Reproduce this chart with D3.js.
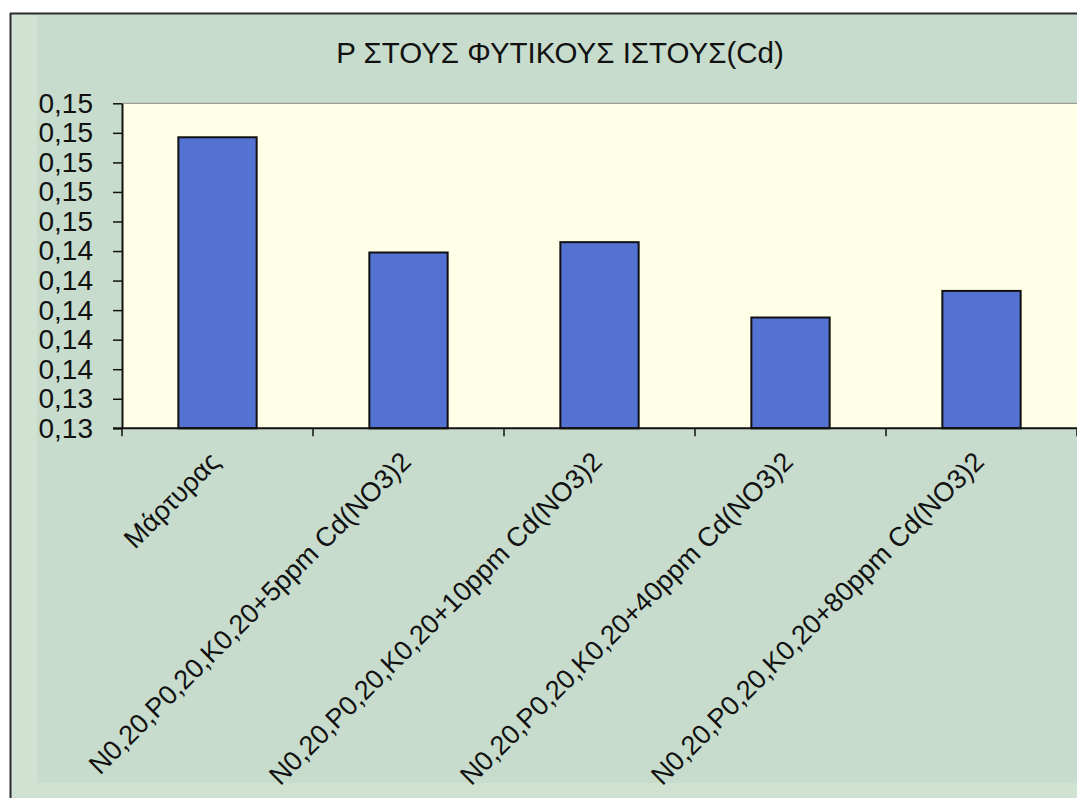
<!DOCTYPE html>
<html>
<head>
<meta charset="utf-8">
<script src="https://cdn.jsdelivr.net/npm/d3@7"></script>
<style>
  html, body { margin: 0; padding: 0; background: #ffffff; }
  svg { display: block; }
  text { font-family: "Liberation Sans", Arial, sans-serif; fill: #111; }
</style>
</head>
<body>
<svg id="chart" width="1077" height="798"></svg>
<script>
// P content in plant tissue per treatment
const chartTitle = "Ρ ΣΤΟΥΣ ΦΥΤΙΚΟΥΣ ΙΣΤΟΥΣ(Cd)";
const categories = [
  "Μάρτυρας",
  "N0,20,P0,20,K0,20+5ppm Cd(NO3)2",
  "N0,20,P0,20,K0,20+10ppm Cd(NO3)2",
  "N0,20,P0,20,K0,20+40ppm Cd(NO3)2",
  "N0,20,P0,20,K0,20+80ppm Cd(NO3)2"
];
const values = [0.1517, 0.1439, 0.1446, 0.1395, 0.1413];
const yTickValues = [0.132, 0.134, 0.136, 0.138, 0.140, 0.142, 0.144, 0.146, 0.148, 0.150, 0.152, 0.154];
const yTickLabels = ["0,13", "0,13", "0,14", "0,14", "0,14", "0,14", "0,14", "0,15", "0,15", "0,15", "0,15", "0,15"];

const W = 1077, H = 798;
const plot = { left: 122, right: 1077, top: 103.3, bottom: 428.3 };

const svg = d3.select("#chart");

// chart area background and frame
svg.append("rect").attr("x", 11).attr("y", 14).attr("width", W - 11).attr("height", H - 14)
  .attr("fill", "#d0e3d2");
svg.append("rect").attr("x", 37).attr("y", 15).attr("width", W - 37).attr("height", 783 - 15)
  .attr("fill", "#c7dccd");
svg.append("line").attr("x1", 10).attr("x2", W).attr("y1", 13.5).attr("y2", 13.5)
  .attr("stroke", "#2b2b2b").attr("stroke-width", 2);
svg.append("line").attr("x1", 10.5).attr("x2", 10.5).attr("y1", 13).attr("y2", H)
  .attr("stroke", "#2b2b2b").attr("stroke-width", 2);

// scales
const y = d3.scaleLinear()
  .domain([yTickValues[0], yTickValues[yTickValues.length - 1]])
  .range([plot.bottom, plot.top]);
const x = d3.scaleBand().domain(categories)
  .range([plot.left, plot.right])
  .paddingInner(0.59).paddingOuter(0.295);
const xCell = d3.scaleBand().domain(categories).range([plot.left, plot.right]);

// plot area
svg.append("rect")
  .attr("x", plot.left).attr("y", plot.top)
  .attr("width", plot.right - plot.left).attr("height", plot.bottom - plot.top)
  .attr("fill", "#fffee6");
svg.append("line")
  .attr("x1", plot.left).attr("x2", plot.right)
  .attr("y1", plot.top).attr("y2", plot.top)
  .attr("stroke", "#8a8a8a").attr("stroke-width", 1);

// bars
svg.append("g").selectAll("rect").data(values).join("rect")
  .attr("x", (d, i) => x(categories[i]))
  .attr("y", d => y(d))
  .attr("width", x.bandwidth())
  .attr("height", d => y(yTickValues[0]) - y(d))
  .attr("fill", "#5372d2")
  .attr("stroke", "#111")
  .attr("stroke-width", 2);

// y axis
const yAxis = d3.axisLeft(y)
  .tickValues(yTickValues)
  .tickFormat((d, i) => yTickLabels[i])
  .tickSizeInner(9).tickSizeOuter(0).tickPadding(20);
const gy = svg.append("g").attr("transform", `translate(${plot.left},0)`).call(yAxis);
gy.select(".domain").attr("stroke", "#111").attr("stroke-width", 2);
gy.selectAll(".tick line").attr("stroke", "#111").attr("stroke-width", 1.5);
gy.selectAll(".tick text")
  .style("font-family", "'Liberation Sans', Arial, sans-serif")
  .style("font-size", "28px").attr("fill", "#111");

// x axis: line, boundary ticks and rotated category labels
const gx = svg.append("g");
gx.append("line")
  .attr("x1", plot.left - 9).attr("x2", plot.right)
  .attr("y1", plot.bottom).attr("y2", plot.bottom)
  .attr("stroke", "#111").attr("stroke-width", 2);
const boundaries = categories.map(c => xCell(c)).concat([plot.right]);
gx.selectAll("line.tick").data(boundaries).join("line")
  .attr("class", "tick")
  .attr("x1", d => d).attr("x2", d => d)
  .attr("y1", plot.bottom).attr("y2", plot.bottom + 8)
  .attr("stroke", "#111").attr("stroke-width", 1.5);
gx.selectAll("text").data(categories).join("text")
  .attr("transform", c => {
    const cx = xCell(c) + xCell.bandwidth() / 2;
    return `translate(${cx + 4},${plot.bottom + 35}) rotate(-45)`;
  })
  .attr("text-anchor", "end")
  .style("font-size", "27px")
  .text(c => c);

// title
svg.append("text")
  .attr("x", 560).attr("y", 63)
  .attr("text-anchor", "middle")
  .style("font-size", "29.5px")
  .text(chartTitle);
</script>
</body>
</html>
